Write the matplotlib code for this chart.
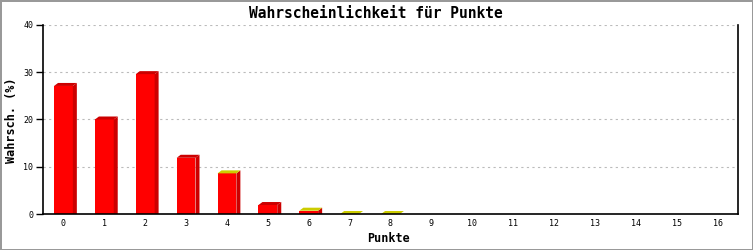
import numpy as np
import matplotlib.pyplot as plt
from matplotlib.patches import Polygon

# Punkte 0..16 und Wahrscheinlichkeit in %
punkte = list(range(17))
wahrsch = [27.1, 20.0, 29.6, 11.9, 8.6, 1.9, 0.7, 0.0, 0.0,
           0.0, 0.0, 0.0, 0.0, 0.0, 0.0, 0.0, 0.0]
gelb = [4, 6, 7, 8]  # bars with yellow top face
y_ticks = [0, 10, 20, 30, 40]

W, H = 753, 250
fig = plt.figure(figsize=(W / 100, H / 100), dpi=100)
fig.patch.set_facecolor('white')
fig.patch.set_edgecolor('#999999')
fig.patch.set_linewidth(2)

ax = fig.add_axes([43 / W, 1 - 214 / H, (738 - 43) / W, (214 - 25) / H])
ax.set_xlim(-0.5, 16.5)
ax.set_ylim(0, 40)

mono = 'DejaVu Sans Mono'
w = 0.46
dx = 4 / 40.9            # depth offset in data units
dy = 3 / 189 * 40

for x, v in zip(punkte, wahrsch):
    if v <= 0 and x not in gelb:
        continue
    if v > 0:
        ax.bar(x, v, width=w, color='#ff0000', zorder=3, linewidth=0)
        side = [(x + w / 2, 0), (x + w / 2 + dx, 0), (x + w / 2 + dx, v + dy), (x + w / 2, v)]
        ax.add_patch(Polygon(side, closed=True, facecolor='#cc0000', edgecolor='none', zorder=3))
    top_col = '#cccc00' if x in gelb else '#cc0000'
    top = [(x - w / 2, v), (x + w / 2, v), (x + w / 2 + dx, v + dy), (x - w / 2 + dx, v + dy)]
    ax.add_patch(Polygon(top, closed=True, facecolor=top_col, edgecolor='none', zorder=3))

ax.set_yticks(y_ticks)
ax.set_yticklabels([str(t) for t in y_ticks], fontsize=6, family=mono)
ax.set_xticks(punkte)
ax.set_xticklabels([str(p) for p in punkte], fontsize=6, family=mono)
ax.tick_params(axis='x', length=0, pad=3.5)
ax.tick_params(axis='y', length=5, width=1, pad=2)

ax.grid(axis='y', color='#bbbbbb', linestyle=(0, (2, 3)), linewidth=0.8, zorder=0)
ax.set_axisbelow(True)

for s in ['left', 'bottom', 'right']:
    ax.spines[s].set_linewidth(1.2)
    ax.spines[s].set_color('black')
ax.spines['top'].set_visible(False)
ax.spines['bottom'].set_zorder(4)

fig.text(376 / W, 1 - 13 / H, 'Wahrscheinlichkeit für Punkte', ha='center', va='center',
         fontsize=10.5, family=mono, weight='bold')
fig.text(389 / W, 1 - 239 / H, 'Punkte', ha='center', va='center',
         fontsize=8.5, family=mono, weight='bold')
fig.text(12 / W, 1 - 120 / H, 'Wahrsch. (%)', ha='center', va='center', rotation=90,
         fontsize=8.5, family=mono, weight='bold')

fig.savefig('out.png', dpi=100, facecolor=fig.get_facecolor(), edgecolor=fig.get_edgecolor())
